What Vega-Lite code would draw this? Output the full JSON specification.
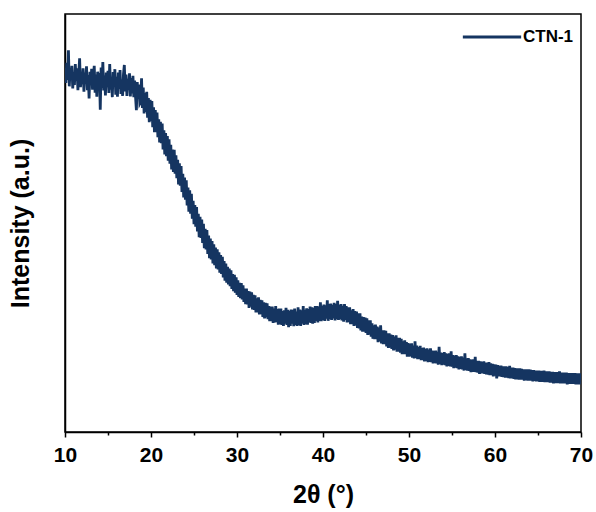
{
  "$schema": "https://vega.github.io/schema/vega-lite/v6.json",
  "width": 516,
  "height": 418,
  "autosize": {"type": "none"},
  "padding": {"left": 65, "top": 14, "right": 15, "bottom": 80},
  "background": "white",
  "config": {
    "view": {"stroke": "#000000", "strokeWidth": 1.5},
    "font": "Liberation Sans",
    "axis": {"domainColor": "#000000", "domainWidth": 1.5, "tickColor": "#000000", "tickWidth": 1.5, "grid": false}
  },
  "data": {"values": [
{"t":10.0,"i":87.1},{"t":10.1,"i":83.5},{"t":10.2,"i":88.3},{"t":10.3,"i":84.2},{"t":10.4,"i":91.3},{"t":10.5,"i":82.7},{"t":10.6,"i":87.0},{"t":10.7,"i":84.5},{"t":10.8,"i":87.6},{"t":10.9,"i":82.2},
{"t":11.0,"i":86.1},{"t":11.1,"i":83.0},{"t":11.2,"i":88.0},{"t":11.3,"i":84.0},{"t":11.4,"i":87.0},{"t":11.5,"i":81.8},{"t":11.6,"i":85.8},{"t":11.7,"i":89.4},{"t":11.8,"i":82.5},{"t":11.9,"i":85.3},
{"t":12.0,"i":83.2},{"t":12.1,"i":87.0},{"t":12.2,"i":81.4},{"t":12.3,"i":86.0},{"t":12.4,"i":83.6},{"t":12.5,"i":87.5},{"t":12.6,"i":81.8},{"t":12.7,"i":85.4},{"t":12.8,"i":79.8},{"t":12.9,"i":86.2},
{"t":13.0,"i":83.2},{"t":13.1,"i":86.9},{"t":13.2,"i":81.9},{"t":13.3,"i":84.8},{"t":13.4,"i":87.6},{"t":13.5,"i":81.2},{"t":13.6,"i":85.5},{"t":13.7,"i":80.2},{"t":13.8,"i":86.2},{"t":13.9,"i":82.8},
{"t":14.0,"i":85.9},{"t":14.1,"i":77.1},{"t":14.2,"i":87.2},{"t":14.3,"i":82.4},{"t":14.4,"i":88.5},{"t":14.5,"i":81.7},{"t":14.6,"i":85.3},{"t":14.7,"i":80.5},{"t":14.8,"i":86.0},{"t":14.9,"i":82.5},
{"t":15.0,"i":86.4},{"t":15.1,"i":81.1},{"t":15.2,"i":88.0},{"t":15.3,"i":81.9},{"t":15.4,"i":84.7},{"t":15.5,"i":80.1},{"t":15.6,"i":86.1},{"t":15.7,"i":82.8},{"t":15.8,"i":86.8},{"t":15.9,"i":80.7},
{"t":16.0,"i":85.0},{"t":16.1,"i":80.2},{"t":16.2,"i":86.0},{"t":16.3,"i":82.1},{"t":16.4,"i":86.6},{"t":16.5,"i":80.9},{"t":16.6,"i":84.3},{"t":16.7,"i":80.4},{"t":16.8,"i":85.6},{"t":16.9,"i":87.8},
{"t":17.0,"i":81.5},{"t":17.1,"i":85.5},{"t":17.2,"i":80.4},{"t":17.3,"i":84.5},{"t":17.4,"i":81.9},{"t":17.5,"i":85.8},{"t":17.6,"i":80.3},{"t":17.7,"i":84.7},{"t":17.8,"i":81.0},{"t":17.9,"i":85.2},
{"t":18.0,"i":80.1},{"t":18.1,"i":84.1},{"t":18.2,"i":80.2},{"t":18.3,"i":77.0},{"t":18.4,"i":83.7},{"t":18.5,"i":79.7},{"t":18.6,"i":83.1},{"t":18.7,"i":78.6},{"t":18.8,"i":79.0},{"t":18.9,"i":84.6},
{"t":19.0,"i":77.5},{"t":19.1,"i":82.4},{"t":19.2,"i":76.2},{"t":19.3,"i":81.1},{"t":19.4,"i":76.6},{"t":19.5,"i":81.4},{"t":19.6,"i":75.2},{"t":19.7,"i":79.9},{"t":19.8,"i":74.1},{"t":19.9,"i":79.5},
{"t":20.0,"i":74.4},{"t":20.1,"i":79.2},{"t":20.2,"i":72.9},{"t":20.3,"i":77.7},{"t":20.4,"i":71.7},{"t":20.5,"i":77.0},{"t":20.6,"i":71.7},{"t":20.7,"i":76.4},{"t":20.8,"i":70.5},{"t":20.9,"i":74.8},
{"t":21.0,"i":69.3},{"t":21.1,"i":74.2},{"t":21.2,"i":69.1},{"t":21.3,"i":73.8},{"t":21.4,"i":67.6},{"t":21.5,"i":72.2},{"t":21.6,"i":66.4},{"t":21.7,"i":71.5},{"t":21.8,"i":66.0},{"t":21.9,"i":70.8},
{"t":22.0,"i":64.9},{"t":22.1,"i":70.0},{"t":22.2,"i":64.2},{"t":22.3,"i":68.7},{"t":22.4,"i":62.8},{"t":22.5,"i":67.6},{"t":22.6,"i":62.2},{"t":22.7,"i":67.5},{"t":22.8,"i":61.8},{"t":22.9,"i":66.2},
{"t":23.0,"i":60.7},{"t":23.1,"i":65.1},{"t":23.2,"i":59.2},{"t":23.3,"i":64.3},{"t":23.4,"i":58.9},{"t":23.5,"i":63.6},{"t":23.6,"i":57.4},{"t":23.7,"i":61.8},{"t":23.8,"i":56.1},{"t":23.9,"i":60.9},
{"t":24.0,"i":55.6},{"t":24.1,"i":60.2},{"t":24.2,"i":54.2},{"t":24.3,"i":58.5},{"t":24.4,"i":52.7},{"t":24.5,"i":57.8},{"t":24.6,"i":52.2},{"t":24.7,"i":57.0},{"t":24.8,"i":51.0},{"t":24.9,"i":55.3},
{"t":25.0,"i":49.7},{"t":25.1,"i":54.3},{"t":25.2,"i":49.1},{"t":25.3,"i":53.8},{"t":25.4,"i":48.0},{"t":25.5,"i":52.2},{"t":25.6,"i":46.6},{"t":25.7,"i":51.5},{"t":25.8,"i":46.4},{"t":25.9,"i":50.8},
{"t":26.0,"i":45.2},{"t":26.1,"i":49.8},{"t":26.2,"i":44.0},{"t":26.3,"i":48.6},{"t":26.4,"i":43.7},{"t":26.5,"i":48.3},{"t":26.6,"i":42.6},{"t":26.7,"i":47.0},{"t":26.8,"i":41.6},{"t":26.9,"i":46.3},
{"t":27.0,"i":41.3},{"t":27.1,"i":45.7},{"t":27.2,"i":40.3},{"t":27.3,"i":44.9},{"t":27.4,"i":39.9},{"t":27.5,"i":44.1},{"t":27.6,"i":39.1},{"t":27.7,"i":43.7},{"t":27.8,"i":38.9},{"t":27.9,"i":43.0},
{"t":28.0,"i":38.1},{"t":28.1,"i":42.3},{"t":28.2,"i":37.8},{"t":28.3,"i":41.9},{"t":28.4,"i":37.0},{"t":28.5,"i":40.9},{"t":28.6,"i":36.2},{"t":28.7,"i":40.3},{"t":28.8,"i":35.7},{"t":28.9,"i":39.5},
{"t":29.0,"i":35.3},{"t":29.1,"i":39.1},{"t":29.2,"i":34.9},{"t":29.3,"i":38.7},{"t":29.4,"i":34.2},{"t":29.5,"i":37.8},{"t":29.6,"i":33.7},{"t":29.7,"i":37.6},{"t":29.8,"i":33.3},{"t":29.9,"i":37.0},
{"t":30.0,"i":32.8},{"t":30.1,"i":36.3},{"t":30.2,"i":32.3},{"t":30.3,"i":35.7},{"t":30.4,"i":32.0},{"t":30.5,"i":35.6},{"t":30.6,"i":31.7},{"t":30.7,"i":35.1},{"t":30.8,"i":31.1},{"t":30.9,"i":34.3},
{"t":31.0,"i":30.6},{"t":31.1,"i":34.3},{"t":31.2,"i":30.5},{"t":31.3,"i":33.7},{"t":31.4,"i":29.7},{"t":31.5,"i":33.6},{"t":31.6,"i":30.0},{"t":31.7,"i":33.4},{"t":31.8,"i":29.3},{"t":31.9,"i":32.8},
{"t":32.0,"i":29.2},{"t":32.1,"i":32.7},{"t":32.2,"i":28.6},{"t":32.3,"i":32.0},{"t":32.4,"i":28.6},{"t":32.5,"i":32.2},{"t":32.6,"i":28.1},{"t":32.7,"i":31.6},{"t":32.8,"i":28.2},{"t":32.9,"i":31.5},
{"t":33.0,"i":27.5},{"t":33.1,"i":31.0},{"t":33.2,"i":27.2},{"t":33.3,"i":30.9},{"t":33.4,"i":27.4},{"t":33.5,"i":30.8},{"t":33.6,"i":27.0},{"t":33.7,"i":30.1},{"t":33.8,"i":26.5},{"t":33.9,"i":30.0},
{"t":34.0,"i":26.5},{"t":34.1,"i":30.0},{"t":34.2,"i":26.1},{"t":34.3,"i":29.5},{"t":34.4,"i":26.2},{"t":34.5,"i":30.1},{"t":34.6,"i":26.3},{"t":34.7,"i":29.4},{"t":34.8,"i":25.7},{"t":34.9,"i":29.5},
{"t":35.0,"i":25.8},{"t":35.1,"i":29.5},{"t":35.2,"i":25.6},{"t":35.3,"i":28.9},{"t":35.4,"i":25.4},{"t":35.5,"i":29.1},{"t":35.6,"i":25.9},{"t":35.7,"i":29.7},{"t":35.8,"i":25.6},{"t":35.9,"i":29.2},
{"t":36.0,"i":25.1},{"t":36.1,"i":29.0},{"t":36.2,"i":25.4},{"t":36.3,"i":29.3},{"t":36.4,"i":25.9},{"t":36.5,"i":29.2},{"t":36.6,"i":25.3},{"t":36.7,"i":29.5},{"t":36.8,"i":25.6},{"t":36.9,"i":28.8},
{"t":37.0,"i":25.4},{"t":37.1,"i":29.8},{"t":37.2,"i":25.6},{"t":37.3,"i":29.3},{"t":37.4,"i":25.4},{"t":37.5,"i":29.1},{"t":37.6,"i":25.9},{"t":37.7,"i":30.1},{"t":37.8,"i":25.6},{"t":37.9,"i":29.2},
{"t":38.0,"i":25.8},{"t":38.1,"i":29.6},{"t":38.2,"i":25.7},{"t":38.3,"i":29.4},{"t":38.4,"i":26.2},{"t":38.5,"i":30.0},{"t":38.6,"i":26.1},{"t":38.7,"i":29.8},{"t":38.8,"i":25.9},{"t":38.9,"i":29.7},
{"t":39.0,"i":26.1},{"t":39.1,"i":30.1},{"t":39.2,"i":26.6},{"t":39.3,"i":30.1},{"t":39.4,"i":26.2},{"t":39.5,"i":30.0},{"t":39.6,"i":26.6},{"t":39.7,"i":31.0},{"t":39.8,"i":26.5},{"t":39.9,"i":30.2},
{"t":40.0,"i":26.8},{"t":40.1,"i":30.5},{"t":40.2,"i":26.6},{"t":40.3,"i":30.3},{"t":40.4,"i":27.1},{"t":40.5,"i":31.5},{"t":40.6,"i":26.6},{"t":40.7,"i":30.6},{"t":40.8,"i":27.0},{"t":40.9,"i":30.7},
{"t":41.0,"i":26.8},{"t":41.1,"i":30.4},{"t":41.2,"i":27.2},{"t":41.3,"i":30.9},{"t":41.4,"i":26.7},{"t":41.5,"i":30.6},{"t":41.6,"i":27.0},{"t":41.7,"i":31.4},{"t":41.8,"i":26.8},{"t":41.9,"i":30.4},
{"t":42.0,"i":27.0},{"t":42.1,"i":30.6},{"t":42.2,"i":26.7},{"t":42.3,"i":30.2},{"t":42.4,"i":26.4},{"t":42.5,"i":30.6},{"t":42.6,"i":26.8},{"t":42.7,"i":30.1},{"t":42.8,"i":26.2},{"t":42.9,"i":29.8},
{"t":43.0,"i":26.3},{"t":43.1,"i":29.8},{"t":43.2,"i":25.8},{"t":43.3,"i":29.1},{"t":43.4,"i":25.8},{"t":43.5,"i":29.4},{"t":43.6,"i":25.4},{"t":43.7,"i":28.9},{"t":43.8,"i":25.5},{"t":43.9,"i":28.8},
{"t":44.0,"i":24.9},{"t":44.1,"i":28.4},{"t":44.2,"i":24.8},{"t":44.3,"i":28.4},{"t":44.4,"i":24.3},{"t":44.5,"i":27.6},{"t":44.6,"i":24.0},{"t":44.7,"i":27.5},{"t":44.8,"i":24.0},{"t":44.9,"i":27.4},
{"t":45.0,"i":23.7},{"t":45.1,"i":27.2},{"t":45.2,"i":23.2},{"t":45.3,"i":26.7},{"t":45.4,"i":23.3},{"t":45.5,"i":26.7},{"t":45.6,"i":22.8},{"t":45.7,"i":26.0},{"t":45.8,"i":22.3},{"t":45.9,"i":25.5},
{"t":46.0,"i":22.2},{"t":46.1,"i":25.7},{"t":46.2,"i":22.2},{"t":46.3,"i":25.2},{"t":46.4,"i":21.5},{"t":46.5,"i":25.0},{"t":46.6,"i":21.7},{"t":46.7,"i":25.5},{"t":46.8,"i":21.2},{"t":46.9,"i":24.3},
{"t":47.0,"i":21.0},{"t":47.1,"i":24.3},{"t":47.2,"i":21.0},{"t":47.3,"i":24.2},{"t":47.4,"i":20.5},{"t":47.5,"i":23.6},{"t":47.6,"i":20.1},{"t":47.7,"i":23.6},{"t":47.8,"i":20.2},{"t":47.9,"i":23.3},
{"t":48.0,"i":19.9},{"t":48.1,"i":23.2},{"t":48.2,"i":19.5},{"t":48.3,"i":22.8},{"t":48.4,"i":19.7},{"t":48.5,"i":23.1},{"t":48.6,"i":19.2},{"t":48.7,"i":22.5},{"t":48.8,"i":19.2},{"t":48.9,"i":22.5},
{"t":49.0,"i":19.0},{"t":49.1,"i":22.3},{"t":49.2,"i":18.6},{"t":49.3,"i":21.7},{"t":49.4,"i":18.6},{"t":49.5,"i":21.9},{"t":49.6,"i":18.6},{"t":49.7,"i":21.5},{"t":49.8,"i":18.0},{"t":49.9,"i":21.3},
{"t":50.0,"i":18.0},{"t":50.1,"i":21.1},{"t":50.2,"i":18.1},{"t":50.3,"i":21.2},{"t":50.4,"i":17.8},{"t":50.5,"i":20.7},{"t":50.6,"i":17.6},{"t":50.7,"i":21.7},{"t":50.8,"i":17.7},{"t":50.9,"i":20.7},
{"t":51.0,"i":17.4},{"t":51.1,"i":20.3},{"t":51.2,"i":17.5},{"t":51.3,"i":20.6},{"t":51.4,"i":17.2},{"t":51.5,"i":20.1},{"t":51.6,"i":17.2},{"t":51.7,"i":20.2},{"t":51.8,"i":16.9},{"t":51.9,"i":19.9},
{"t":52.0,"i":17.0},{"t":52.1,"i":20.0},{"t":52.2,"i":16.7},{"t":52.3,"i":19.7},{"t":52.4,"i":16.8},{"t":52.5,"i":20.0},{"t":52.6,"i":16.7},{"t":52.7,"i":19.5},{"t":52.8,"i":16.4},{"t":52.9,"i":19.4},
{"t":53.0,"i":16.5},{"t":53.1,"i":19.5},{"t":53.2,"i":16.4},{"t":53.3,"i":19.2},{"t":53.4,"i":16.1},{"t":53.5,"i":20.4},{"t":53.6,"i":16.3},{"t":53.7,"i":19.0},{"t":53.8,"i":16.0},{"t":53.9,"i":18.9},
{"t":54.0,"i":16.1},{"t":54.1,"i":19.1},{"t":54.2,"i":16.0},{"t":54.3,"i":18.8},{"t":54.4,"i":15.7},{"t":54.5,"i":18.7},{"t":54.6,"i":15.8},{"t":54.7,"i":18.8},{"t":54.8,"i":15.7},{"t":54.9,"i":19.3},
{"t":55.0,"i":15.6},{"t":55.1,"i":18.4},{"t":55.2,"i":15.3},{"t":55.3,"i":18.3},{"t":55.4,"i":15.4},{"t":55.5,"i":18.4},{"t":55.6,"i":15.3},{"t":55.7,"i":18.1},{"t":55.8,"i":15.0},{"t":55.9,"i":18.0},
{"t":56.0,"i":15.1},{"t":56.1,"i":18.1},{"t":56.2,"i":15.0},{"t":56.3,"i":17.8},{"t":56.4,"i":14.7},{"t":56.5,"i":18.8},{"t":56.6,"i":14.8},{"t":56.7,"i":17.6},{"t":56.8,"i":14.7},{"t":56.9,"i":17.7},
{"t":57.0,"i":14.6},{"t":57.1,"i":17.4},{"t":57.2,"i":14.3},{"t":57.3,"i":17.3},{"t":57.4,"i":14.4},{"t":57.5,"i":17.4},{"t":57.6,"i":14.4},{"t":57.7,"i":18.0},{"t":57.8,"i":14.3},{"t":57.9,"i":17.0},
{"t":58.0,"i":14.2},{"t":58.1,"i":17.0},{"t":58.2,"i":13.9},{"t":58.3,"i":16.9},{"t":58.4,"i":14.0},{"t":58.5,"i":16.8},{"t":58.6,"i":14.0},{"t":58.7,"i":16.9},{"t":58.8,"i":13.9},{"t":58.9,"i":16.6},
{"t":59.0,"i":13.8},{"t":59.1,"i":16.6},{"t":59.2,"i":13.7},{"t":59.3,"i":16.7},{"t":59.4,"i":13.6},{"t":59.5,"i":16.4},{"t":59.6,"i":13.6},{"t":59.7,"i":16.3},{"t":59.8,"i":13.3},{"t":59.9,"i":16.2},
{"t":60.0,"i":13.5},{"t":60.1,"i":16.1},{"t":60.2,"i":12.8},{"t":60.3,"i":16.0},{"t":60.4,"i":13.3},{"t":60.5,"i":15.9},{"t":60.6,"i":13.3},{"t":60.7,"i":15.9},{"t":60.8,"i":13.2},{"t":60.9,"i":15.7},
{"t":61.0,"i":13.1},{"t":61.1,"i":15.7},{"t":61.2,"i":13.0},{"t":61.3,"i":15.7},{"t":61.4,"i":13.0},{"t":61.5,"i":15.5},{"t":61.6,"i":12.9},{"t":61.7,"i":15.8},{"t":61.8,"i":12.8},{"t":61.9,"i":15.4},
{"t":62.0,"i":12.8},{"t":62.1,"i":15.4},{"t":62.2,"i":12.7},{"t":62.3,"i":15.3},{"t":62.4,"i":12.6},{"t":62.5,"i":15.2},{"t":62.6,"i":12.6},{"t":62.7,"i":15.2},{"t":62.8,"i":12.5},{"t":62.9,"i":15.2},
{"t":63.0,"i":12.5},{"t":63.1,"i":15.1},{"t":63.2,"i":12.5},{"t":63.3,"i":15.0},{"t":63.4,"i":12.3},{"t":63.5,"i":15.0},{"t":63.6,"i":12.4},{"t":63.7,"i":15.0},{"t":63.8,"i":12.3},{"t":63.9,"i":15.0},
{"t":64.0,"i":12.3},{"t":64.1,"i":14.9},{"t":64.2,"i":12.3},{"t":64.3,"i":14.8},{"t":64.4,"i":12.1},{"t":64.5,"i":14.8},{"t":64.6,"i":12.2},{"t":64.7,"i":14.7},{"t":64.8,"i":12.1},{"t":64.9,"i":14.7},
{"t":65.0,"i":12.1},{"t":65.1,"i":14.7},{"t":65.2,"i":12.0},{"t":65.3,"i":14.6},{"t":65.4,"i":12.0},{"t":65.5,"i":14.6},{"t":65.6,"i":12.0},{"t":65.7,"i":14.7},{"t":65.8,"i":11.9},{"t":65.9,"i":14.5},
{"t":66.0,"i":11.9},{"t":66.1,"i":14.5},{"t":66.2,"i":11.9},{"t":66.3,"i":14.5},{"t":66.4,"i":11.8},{"t":66.5,"i":14.4},{"t":66.6,"i":11.8},{"t":66.7,"i":14.4},{"t":66.8,"i":11.6},{"t":66.9,"i":14.3},
{"t":67.0,"i":11.7},{"t":67.1,"i":14.3},{"t":67.2,"i":11.7},{"t":67.3,"i":14.3},{"t":67.4,"i":11.7},{"t":67.5,"i":14.5},{"t":67.6,"i":11.6},{"t":67.7,"i":14.2},{"t":67.8,"i":11.6},{"t":67.9,"i":14.2},
{"t":68.0,"i":11.6},{"t":68.1,"i":14.2},{"t":68.2,"i":11.6},{"t":68.3,"i":14.2},{"t":68.4,"i":11.4},{"t":68.5,"i":14.1},{"t":68.6,"i":11.5},{"t":68.7,"i":14.1},{"t":68.8,"i":11.5},{"t":68.9,"i":14.1},
{"t":69.0,"i":11.5},{"t":69.1,"i":14.1},{"t":69.2,"i":11.5},{"t":69.3,"i":14.1},{"t":69.4,"i":11.4},{"t":69.5,"i":14.0},{"t":69.6,"i":11.4},{"t":69.7,"i":14.0},{"t":69.8,"i":11.4},{"t":69.9,"i":14.0},
{"t":70.0,"i":12.3}
  ]},
  "layer": [
    {
      "mark": {"type": "line", "strokeWidth": 2.8, "clip": true},
      "encoding": {
        "x": {
          "field": "t", "type": "quantitative",
          "scale": {"domain": [10, 70], "nice": false, "zero": false},
          "axis": {
            "orient": "bottom",
            "values": [10, 20, 30, 40, 50, 60, 70],
            "tickSize": 5,
            "labelFont": "Liberation Sans", "labelFontSize": 21, "labelFontWeight": "bold", "labelColor": "#000000",
            "labelPadding": 7, "labelFlush": false,
            "title": "2θ (°)",
            "titleFont": "Liberation Sans", "titleFontSize": 25, "titleFontWeight": "bold", "titleColor": "#000000",
            "titlePadding": 17
          }
        },
        "y": {
          "field": "i", "type": "quantitative",
          "scale": {"domain": [0, 100], "nice": false, "zero": false},
          "axis": {
            "ticks": false, "labels": false, "grid": false,
            "title": "Intensity (a.u.)",
            "titleFont": "Liberation Sans", "titleFontSize": 25, "titleFontWeight": "bold", "titleColor": "#000000",
            "titlePadding": 32
          }
        },
        "color": {
          "datum": "CTN-1",
          "scale": {"range": ["#153561"]},
          "legend": {
            "title": null,
            "orient": "none",
            "legendX": 396,
            "legendY": -8,
            "padding": 0,
            "symbolType": "stroke",
            "symbolSize": 3400,
            "symbolStrokeWidth": 3,
            "labelFont": "Liberation Sans", "labelFontSize": 17, "labelFontWeight": "bold", "labelColor": "#000000",
            "labelOffset": 0
          }
        }
      }
    },
    {
      "mark": {"type": "line", "strokeOpacity": 0},
      "encoding": {
        "x": {
          "field": "t", "type": "quantitative",
          "scale": {"domain": [10, 70], "nice": false, "zero": false},
          "axis": {"orient": "bottom", "values": [15, 25, 35, 45, 55, 65], "tickSize": 3, "labels": false, "domain": false, "title": null}
        },
        "y": {
          "field": "i", "type": "quantitative",
          "scale": {"domain": [0, 100], "nice": false, "zero": false},
          "axis": {
            "ticks": false, "labels": false, "grid": false,
            "title": "Intensity (a.u.)",
            "titleFont": "Liberation Sans", "titleFontSize": 25, "titleFontWeight": "bold", "titleColor": "#000000",
            "titlePadding": 32
          }
        }
      }
    }
  ],
  "resolve": {"axis": {"x": "independent"}}
}
